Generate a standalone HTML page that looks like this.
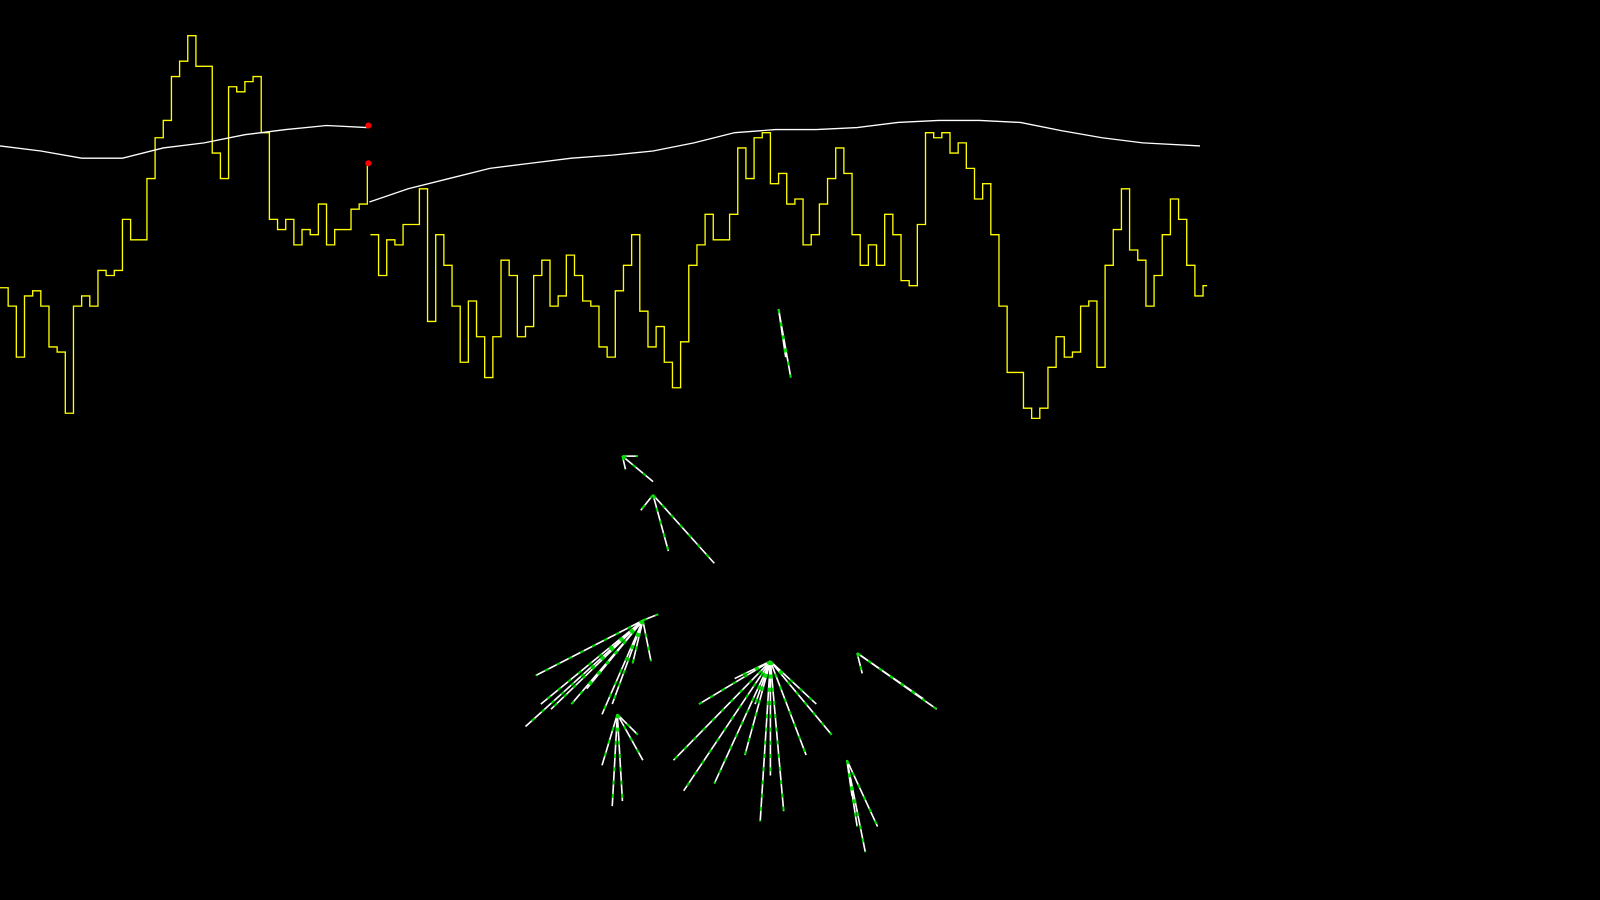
<!DOCTYPE html>
<html><head><meta charset="utf-8"><style>
html,body{margin:0;padding:0;background:#000;width:1600px;height:900px;overflow:hidden}
svg{display:block}
</style></head><body>
<svg id="chart" width="1600" height="900" viewBox="0 0 1568 882" preserveAspectRatio="none">
<rect x="0" y="0" width="1568" height="882" fill="#000"/>
<g id="streaks"></g>
<g id="lines"></g>
</svg>
<script>
const yellowStep = 8;
const yellowA = [282,300,350,290,285,300,340,345,405,300,290,300,265,270,265,215,235,235,175,135,118,75,60,35,65,65,150,175,85,90,80,75,130,215,225,215,240,225,230,200,240,225,225,205,200,160];
const yellowB = [230,270,235,240,220,220,185,315,230,260,300,355,295,330,370,330,255,270,330,320,270,255,300,290,250,270,295,300,340,350,285,260,230,305,340,320,355,380,335,260,240,210,235,235,210,145,175,135,130,180,170,200,195,240,230,200,175,145,170,230,260,240,260,210,230,275,280,220,130,135,130,150,140,165,195,180,230,300,365,365,400,410,400,360,330,350,345,300,295,360,260,225,185,245,255,300,270,230,195,215,260,290,280];
const yellowBStart = 363;
const whiteAX = [0,40,80,120,160,200,240,280,320,360];
const whiteAY = [143,148,155,155,145,140,132,127,123,125];
const whiteBX = [362,400,440,480,520,560,600,640,680,720,760,800,840,880,920,960,1000,1040,1080,1120,1176];
const whiteBY = [198,185,175,165,160,155,152,148,140,130,127,127,125,120,118,118,120,128,135,140,143];
const markerX = [361,361];
const markerY = [123,160];
// streak clusters: origin and ray endpoints
const clusterOX = [763,610,630,605,755,830,840,640];
const clusterOY = [303,447,608,700,648,745,640,485];
const clusterRays = [
 [[775,370],[770,350]],
 [[640,472],[625,447],[613,460]],
 [[525,662],[515,712],[540,695],[560,690],[590,700],[600,690],[620,650],[645,602],[638,648],[530,690],[575,675]],
 [[590,750],[610,785],[625,720],[630,745],[600,790]],
 [[685,690],[700,768],[745,805],[768,795],[740,690],[790,740],[815,720],[800,690],[720,665],[660,745],[670,775],[755,760],[730,740]],
 [[848,835],[840,810],[860,810],[835,780]],
 [[918,695],[845,660],[905,685]],
 [[700,552],[655,540],[628,500]]
];
const NS='http://www.w3.org/2000/svg';
const linesG=document.getElementById('lines');
const streaksG=document.getElementById('streaks');
function xStep(i,start){return start+i*yellowStep;}
function stepPath(vals,start){
  let d='M'+xStep(0,start)+' '+vals[0];
  for(let i=1;i<vals.length;i++){d+=' H'+xStep(i,start)+' V'+vals[i];}
  d+=' H'+(xStep(vals.length-1,start)+yellowStep/2);
  return d;
}
function polyPath(xs,ys){return xs.map((x,i)=>(i?'L':'M')+x+' '+ys[i]).join(' ');}
function addPath(g,d,stroke,w,name){
  const p=document.createElementNS(NS,'path');
  p.setAttribute('d',d);p.setAttribute('fill','none');p.setAttribute('stroke',stroke);p.setAttribute('stroke-width',w);
  
  
  g.appendChild(p);return p;
}
addPath(linesG,stepPath(yellowA,0),'#ffff00',1.3,'yellow-series-a');
addPath(linesG,stepPath(yellowB,yellowBStart),'#ffff00',1.3,'yellow-series-b');
addPath(linesG,polyPath(whiteAX,whiteAY),'#ffffff',1.3,'white-series-a');
addPath(linesG,polyPath(whiteBX,whiteBY),'#ffffff',1.3,'white-series-b');
markerX.forEach((x,i)=>{
  const c=document.createElementNS(NS,'circle');
  c.setAttribute('cx',x);c.setAttribute('cy',markerY[i]);c.setAttribute('r',3);c.setAttribute('fill','#ff0000');
  
  
  linesG.appendChild(c);
});
clusterOX.forEach((ox,ci)=>{
  const oy=clusterOY[ci];
  clusterRays[ci].forEach(r=>{
    const d='M'+ox+' '+oy+' L'+r[0]+' '+r[1];
    addPath(streaksG,d,'#ffffff',1.6,'streak');
    const g=addPath(streaksG,d,'#00dd00',2,'streak-green');
    g.setAttribute('stroke-dasharray','4 9');
  });
});
</script>
</body></html>
